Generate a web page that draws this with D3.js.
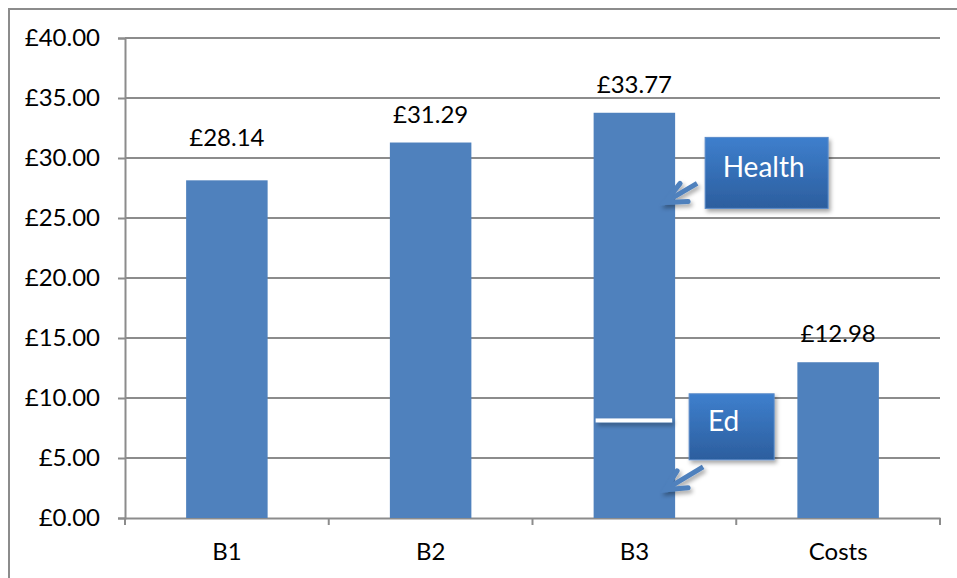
<!DOCTYPE html>
<html>
<head>
<meta charset="utf-8">
<script src="https://cdn.jsdelivr.net/npm/d3@7"></script>
<style>
  html, body { margin: 0; padding: 0; background: #fff; }
  svg { display: block; font-family: Lato, "Open Sans", sans-serif; }
</style>
</head>
<body>
<svg id="chart" width="957" height="578"></svg>
<script>
// Cost per category (£)
const categories = ["B1", "B2", "B3", "Costs"];
const values = [28.14, 31.29, 33.77, 12.98];
const tickValues = [0, 5, 10, 15, 20, 25, 30, 35, 40];
// Split point inside B3 between the "Ed" and "Health" portions
const edSplit = 8.13;
const calloutLabels = ["Health", "Ed"];
const calloutValues = [26.3, 2.35];

const svg = d3.select("#chart");
const margin = { left: 125, right: 17, top: 38, bottom: 60 };
const W = 957, H = 578;
const FONT = 24;

const x = d3.scaleBand().domain(categories)
  .range([margin.left, W - margin.right]).paddingInner(0.6).paddingOuter(0.3);
const xTicks = d3.scaleBand().domain(categories)
  .range([margin.left, W - margin.right]);
const y = d3.scaleLinear().domain([0, 40]).range([H - margin.bottom, margin.top]);

const defs = svg.append("defs");
const grad = defs.append("linearGradient").attr("id", "boxGrad")
  .attr("x1", 0).attr("y1", 0).attr("x2", 0).attr("y2", 1);
grad.append("stop").attr("offset", "0%").attr("stop-color", "#3e7fcd");
grad.append("stop").attr("offset", "100%").attr("stop-color", "#2c5e9e");
const shadow = defs.append("filter").attr("id", "shadow")
  .attr("filterUnits", "userSpaceOnUse")
  .attr("x", 0).attr("y", 0).attr("width", W).attr("height", H);
shadow.append("feDropShadow").attr("dx", 2).attr("dy", 3).attr("stdDeviation", 2)
  .attr("flood-color", "#000").attr("flood-opacity", 0.35);

// Outer frame
svg.append("rect").attr("x", 9).attr("y", 9).attr("width", W + 20).attr("height", H + 20)
  .attr("fill", "none").attr("stroke", "#8c8c8c").attr("stroke-width", 2);

// Horizontal gridlines
svg.append("g").selectAll("line").data(tickValues.filter(d => d > 0)).join("line")
  .attr("x1", margin.left).attr("x2", W - margin.right)
  .attr("y1", d => y(d)).attr("y2", d => y(d))
  .attr("stroke", "#8c8c8c").attr("stroke-width", 2);

// Y axis
const yAxis = svg.append("g").attr("transform", `translate(${margin.left},0)`)
  .call(d3.axisLeft(y).tickValues(tickValues).tickSize(7).tickPadding(18)
    .tickFormat(d => "£" + d3.format(".2f")(d)));
yAxis.select(".domain").attr("stroke", "#8c8c8c").attr("stroke-width", 2);
yAxis.selectAll(".tick line").attr("stroke", "#8c8c8c").attr("stroke-width", 2);
yAxis.selectAll("text").attr("font-size", FONT).attr("fill", "#000")
  .attr("font-family", "Lato, 'Open Sans', sans-serif");

// X axis
const xAxis = svg.append("g").attr("transform", `translate(0,${y(0)})`)
  .call(d3.axisBottom(xTicks).tickSize(0).tickPadding(25));
xAxis.select(".domain").attr("stroke", "#8c8c8c").attr("stroke-width", 2);
xAxis.selectAll("text").attr("font-size", FONT).attr("fill", "#000")
  .attr("font-family", "Lato, 'Open Sans', sans-serif");
// Category boundary ticks
const bounds = categories.map(c => xTicks(c)).concat([xTicks.range()[1]]);
svg.append("g").selectAll("line").data(bounds).join("line")
  .attr("x1", d => d).attr("x2", d => d)
  .attr("y1", y(0)).attr("y2", y(0) + 7)
  .attr("stroke", "#8c8c8c").attr("stroke-width", 2);

// Bars
svg.append("g").selectAll("rect").data(values).join("rect")
  .attr("x", (d, i) => x(categories[i])).attr("width", x.bandwidth())
  .attr("y", d => y(d)).attr("height", d => y(0) - y(d))
  .attr("fill", "#4f81bd");

// Value labels (the B1 label sits a little higher than the rest)
const labelGap = { B1: 34 };
svg.append("g").selectAll("text").data(values).join("text")
  .attr("x", (d, i) => x(categories[i]) + x.bandwidth() / 2)
  .attr("y", (d, i) => y(d) - (labelGap[categories[i]] || 20))
  .attr("text-anchor", "middle").attr("font-size", FONT).attr("fill", "#000")
  .text(d => "£" + d3.format(".2f")(d));

// Ed / Health divider in B3
const b3 = x("B3");
svg.append("rect")
  .attr("x", b3 + 2).attr("width", x.bandwidth() - 5)
  .attr("y", y(edSplit) - 2).attr("height", 4)
  .attr("fill", "#fff").attr("filter", "url(#shadow)");

// Callouts with arrows pointing into the B3 bar
const boxSpec = {
  Health: { box: [40, -65, 123, 71], shaft: [32, -19], arms: [[15, -19], [23, -1]], tx: -3 },
  Ed: { box: [24, -96, 85, 66], shaft: [38, -23], arms: [[12, -19], [23, -2]], tx: -8 }
};
calloutLabels.forEach((label, i) => {
  const tipX = x("B3") + x.bandwidth() - 10;
  const tipY = y(calloutValues[i]);
  const s = boxSpec[label];
  const [bdx, bdy, bw, bh] = s.box;
  const bx = tipX + bdx, by = tipY + bdy;
  const g = svg.append("g").attr("filter", "url(#shadow)");
  g.append("line")
    .attr("x1", tipX + s.shaft[0]).attr("y1", tipY + s.shaft[1])
    .attr("x2", tipX + 3).attr("y2", tipY - 2)
    .attr("stroke", "#4f81bd").attr("stroke-width", 5);
  g.append("path")
    .attr("d", `M${tipX + s.arms[0][0]},${tipY + s.arms[0][1]} L${tipX},${tipY} L${tipX + s.arms[1][0]},${tipY + s.arms[1][1]}`)
    .attr("fill", "none").attr("stroke", "#4f81bd").attr("stroke-width", 5)
    .attr("stroke-linejoin", "miter").attr("stroke-linecap", "round");
  const gb = svg.append("g");
  gb.append("rect").attr("x", bx).attr("y", by).attr("width", bw).attr("height", bh)
    .attr("fill", "url(#boxGrad)").attr("stroke", "#5a8bc9").attr("stroke-width", 1)
    .attr("filter", "url(#shadow)");
  gb.append("text").attr("x", bx + bw / 2 + s.tx).attr("y", by + bh / 2 + 4)
    .attr("text-anchor", "middle").attr("font-size", 28).attr("fill", "#fff")
    .text(label);
});
</script>
</body>
</html>
